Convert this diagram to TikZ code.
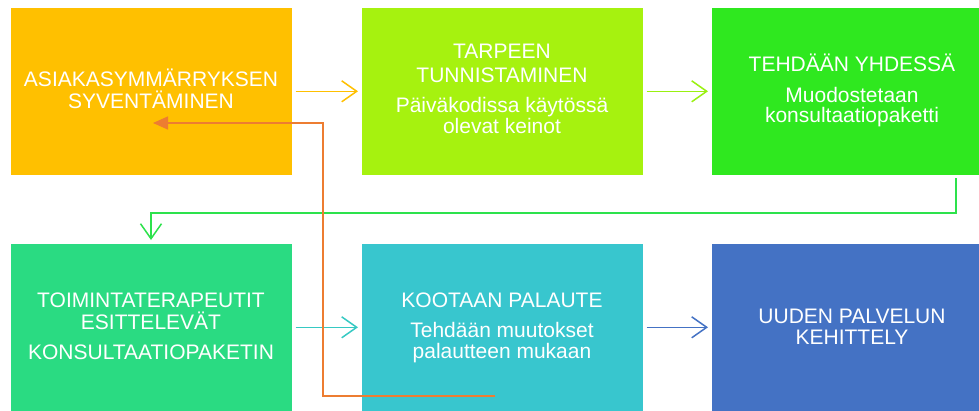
\documentclass[tikz,border=0pt]{standalone}
\usepackage{fontspec}
\setmainfont{Liberation Sans}
\usetikzlibrary{arrows.meta}
\definecolor{cOne}{HTML}{FFC000}
\definecolor{cTwo}{HTML}{A6F20F}
\definecolor{cThree}{HTML}{2FE81F}
\definecolor{cFour}{HTML}{2ADB82}
\definecolor{cFive}{HTML}{38C6CE}
\definecolor{cSix}{HTML}{4472C4}
\definecolor{cOrange}{HTML}{ED7D31}
\tikzset{
  boxshape/.style={rectangle, draw=white, line width=0.6pt, minimum width=282pt, inner sep=0pt, anchor=north west},
  topbox/.style={boxshape, minimum height=168pt},
  botbox/.style={boxshape, minimum height=168pt},
  txt/.style={anchor=base, text=white, inner sep=0pt, font=\fontsize{21}{22}\selectfont},
  barb/.style={line width=1.5pt, -{Straight Barb[length=15pt,width=21pt,line width=1.5pt]}},
}
\begin{document}
\begin{tikzpicture}[x=1pt,y=-1pt]
\useasboundingbox (0,0) rectangle (979,410);
\clip (0,0) rectangle (979,410);
\fill[white] (0,0) rectangle (979,410);
% boxes
\node[topbox, fill=cOne]   (b1) at (10,7) {};
\node[topbox, fill=cTwo]   (b2) at (361,7) {};
\node[topbox, fill=cThree] (b3) at (711,7) {};
\node[botbox, fill=cFour]  (b4) at (10,243) {};
\node[botbox, fill=cFive]  (b5) at (361,243) {};
\node[botbox, fill=cSix]   (b6) at (711,243) {};
% texts
\node[txt] (t11) at (151,86) {ASIAKASYMMÄRRYKSEN};
\node[txt] (t12) at (151,108) {SYVENTÄMINEN};
\node[txt] (t21) at (502,58) {TARPEEN};
\node[txt] (t22) at (502,82) {TUNNISTAMINEN};
\node[txt] (t23) at (502,112) {Päiväkodissa käytössä};
\node[txt] (t24) at (502,133) {olevat keinot};
\node[txt] (t31) at (852,71) {TEHDÄÄN YHDESSÄ};
\node[txt] (t32) at (852,102) {Muodostetaan};
\node[txt] (t33) at (852,122) {konsultaatiopaketti};
\node[txt] (t41) at (151,307) {TOIMINTATERAPEUTIT};
\node[txt] (t42) at (151,329) {ESITTELEVÄT};
\node[txt] (t43) at (151,359) {KONSULTAATIOPAKETIN};
\node[txt] (t51) at (502,307) {KOOTAAN PALAUTE};
\node[txt] (t52) at (502,337) {Tehdään muutokset};
\node[txt] (t53) at (502,358) {palautteen mukaan};
\node[txt] (t61) at (852,323) {UUDEN PALVELUN};
\node[txt] (t62) at (852,344) {KEHITTELY};
% straight arrows
\draw[barb, draw=cOne] ([xshift=3pt]b1.east) -- ([xshift=-3pt]b2.west);
\draw[barb, draw=cTwo!90!cThree] ([xshift=3pt]b2.east |- b1.east) -- ([xshift=-3pt]b3.west |- b1.east);
\draw[barb, draw=cFive!85!cFour] ([xshift=3pt]b4.east) -- ([xshift=-3pt]b5.west);
\draw[barb, draw=cSix] ([xshift=3pt]b5.east) -- ([xshift=-3pt]b6.west);
% elbow from box 3 to box 4
\coordinate (g1) at (956,178);
\coordinate (g2) at (151,213);
\draw[barb, draw=cThree!55!cFour]
  (g1) |- (g2) -- ([yshift=3pt]b4.north -| g2);
% orange feedback line
\coordinate (o1) at (495,396);
\coordinate (o2) at (323,123);
\coordinate (otip) at (153,123);
\draw[line width=1.5pt, draw=cOrange, -{Triangle[length=15pt,width=13pt]}]
  (o1) -| (o2) -- (otip);
\end{tikzpicture}
\end{document}
